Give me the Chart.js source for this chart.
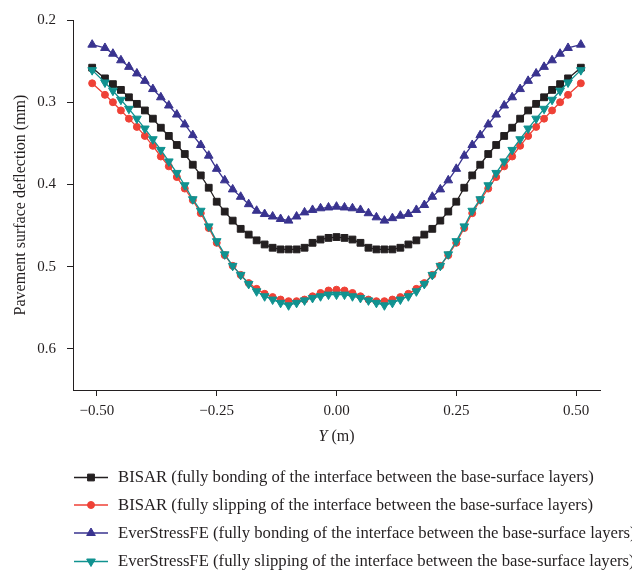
<!DOCTYPE html>
<html><head><meta charset="utf-8">
<script src="https://cdn.jsdelivr.net/npm/chart.js@4/dist/chart.umd.min.js"></script>
<style>html,body{margin:0;padding:0;background:#fff}#wrap{width:632px;height:573px;position:relative}canvas{display:block}</style>
</head><body><div id="wrap"><canvas id="c" width="632" height="573"></canvas></div>
<script>
// Transverse position Y (m)
const positionY = [-0.51, -0.4833, -0.4667, -0.45, -0.4333, -0.4167, -0.4, -0.3833, -0.3667, -0.35, -0.3333, -0.3167, -0.3, -0.2833, -0.2667, -0.25, -0.2333, -0.2167, -0.2, -0.1833, -0.1667, -0.15, -0.1333, -0.1167, -0.1, -0.0833, -0.0667, -0.05, -0.0333, -0.0167, 0, 0.0167, 0.0333, 0.05, 0.0667, 0.0833, 0.1, 0.1167, 0.1333, 0.15, 0.1667, 0.1833, 0.2, 0.2167, 0.2333, 0.25, 0.2667, 0.2833, 0.3, 0.3167, 0.3333, 0.35, 0.3667, 0.3833, 0.4, 0.4167, 0.4333, 0.45, 0.4667, 0.4833, 0.51];

const bisarBonding = [0.258,0.271,0.278,0.285,0.294,0.302,0.310,0.320,0.331,0.341,0.352,0.363,0.376,0.389,0.404,0.421,0.433,0.444,0.454,0.461,0.468,0.473,0.477,0.479,0.479,0.479,0.477,0.471,0.467,0.465,0.464,
  0.465,0.467,0.471,0.477,0.479,0.479,0.479,0.477,0.473,0.468,0.461,0.454,0.444,0.433,0.421,0.404,0.389,0.376,0.363,0.352,0.341,0.331,0.320,0.310,0.302,0.294,0.285,0.278,0.271,0.258];

const bisarSlipping = [0.277,0.291,0.300,0.310,0.320,0.330,0.341,0.353,0.366,0.378,0.391,0.405,0.419,0.435,0.453,0.471,0.486,0.499,0.510,0.520,0.527,0.533,0.537,0.540,0.542,0.542,0.540,0.536,0.532,0.529,0.528,
  0.529,0.532,0.536,0.540,0.542,0.542,0.540,0.537,0.533,0.527,0.520,0.510,0.499,0.486,0.471,0.453,0.435,0.419,0.405,0.391,0.378,0.366,0.353,0.341,0.330,0.320,0.310,0.300,0.291,0.277];

const everBonding = [0.230,0.234,0.241,0.249,0.257,0.265,0.274,0.284,0.294,0.304,0.315,0.327,0.340,0.352,0.365,0.381,0.395,0.406,0.415,0.424,0.432,0.436,0.439,0.442,0.444,0.439,0.434,0.431,0.429,0.428,0.427,
  0.428,0.429,0.431,0.435,0.440,0.444,0.441,0.438,0.436,0.431,0.425,0.415,0.406,0.395,0.381,0.365,0.352,0.340,0.327,0.315,0.304,0.294,0.284,0.274,0.265,0.257,0.249,0.241,0.234,0.230];

const everSlipping = [0.261,0.276,0.286,0.297,0.308,0.320,0.332,0.345,0.358,0.372,0.386,0.401,0.418,0.432,0.451,0.469,0.485,0.499,0.510,0.521,0.530,0.536,0.540,0.544,0.547,0.544,0.541,0.538,0.536,0.534,0.534,
  0.534,0.536,0.538,0.541,0.544,0.547,0.544,0.540,0.536,0.530,0.521,0.510,0.499,0.485,0.469,0.451,0.432,0.418,0.401,0.386,0.372,0.358,0.345,0.332,0.320,0.308,0.297,0.286,0.276,0.261];

const seriesNames = [
  'BISAR (fully bonding of the interface between the base-surface layers)',
  'BISAR (fully slipping of the interface between the base-surface layers)',
  'EverStressFE (fully bonding of the interface between the base-surface layers)',
  'EverStressFE (fully slipping of the interface between the base-surface layers)'
];

const xTicks = [-0.5, -0.25, 0, 0.25, 0.5];
const yTicks = [0.2, 0.3, 0.4, 0.5, 0.6];
const xTitleMain = 'Y';
const xTitleUnit = ' (m)';
const yTitle = 'Pavement surface deflection (mm)';

const SERIF = '"Liberation Serif", "DejaVu Serif", serif';
const COLORS = ['#231f20', '#ef4136', '#39338f', '#109290'];

function pts(vals) { return positionY.map((x, i) => ({x: x, y: vals[i]})); }

function ds(label, vals, color, style, radius, rotation, order) {
  return {
    label: label, data: pts(vals), borderColor: color, backgroundColor: color,
    pointBackgroundColor: color, pointBorderColor: color, pointBorderWidth: 1,
    pointStyle: style, pointRadius: radius, pointRotation: rotation, pointHoverRadius: radius,
    borderWidth: 1.3, tension: 0, order: order
  };
}

const customLegend = {
  id: 'customLegend',
  afterDraw(chart) {
    const ctx = chart.ctx;
    const rows = [477.5, 505, 533, 561.5];
    ctx.save();
    chart.data.datasets.forEach((d, i) => {
      const y = rows[i];
      ctx.strokeStyle = d.borderColor;
      ctx.lineWidth = 1.6;
      ctx.beginPath(); ctx.moveTo(74, y); ctx.lineTo(108, y); ctx.stroke();
      ctx.fillStyle = d.pointBackgroundColor;
      ctx.strokeStyle = d.pointBorderColor;
      ctx.lineWidth = 1;
      Chart.helpers.drawPoint(ctx, {pointStyle: d.pointStyle, radius: d.pointRadius, borderWidth: 1, rotation: d.pointRotation}, 91, y);
      ctx.fillStyle = '#231f20';
      ctx.font = '16.7px ' + SERIF;
      ctx.textAlign = 'left';
      ctx.textBaseline = 'middle';
      ctx.fillText(seriesNames[i], 118, y + 0.5);
    });
    // x axis title with italic variable
    const ca = chart.chartArea;
    const cx = (ca.left + ca.right) / 2;
    const ty = 437;
    ctx.fillStyle = '#231f20';
    ctx.textBaseline = 'middle';
    ctx.font = 'italic 16px ' + SERIF;
    const w1 = ctx.measureText(xTitleMain).width;
    ctx.font = '16px ' + SERIF;
    const w2 = ctx.measureText(xTitleUnit).width;
    const start = cx - (w1 + w2) / 2;
    ctx.textAlign = 'left';
    ctx.font = 'italic 16px ' + SERIF;
    ctx.fillText(xTitleMain, start, ty);
    ctx.font = '16px ' + SERIF;
    ctx.fillText(xTitleUnit, start + w1, ty);
    ctx.restore();
  }
};

const chart = new Chart(document.getElementById('c'), {
  type: 'line',
  data: {
    datasets: [
      ds(seriesNames[0], bisarBonding, COLORS[0], 'rect', 4.8, 0, 1),
      ds(seriesNames[1], bisarSlipping, COLORS[1], 'circle', 3.5, 0, 2),
      ds(seriesNames[2], everBonding, COLORS[2], 'triangle', 5, 0, 3),
      ds(seriesNames[3], everSlipping, COLORS[3], 'triangle', 5, 180, 0)
    ]
  },
  options: {
    responsive: false,
    devicePixelRatio: 1,
    animation: false,
    layout: {padding: {left: 0, top: 19, right: 32, bottom: 123}},
    plugins: {legend: {display: false}, tooltip: {enabled: false}, title: {display: false}},
    scales: {
      x: {
        type: 'linear', min: -0.55, max: 0.55,
        afterBuildTicks(s) { s.ticks = xTicks.map(v => ({value: v})); },
        afterFit(s) { s.height = 60; },
        ticks: {
          color: '#231f20', font: {family: SERIF, size: 15}, padding: 6, maxRotation: 0, autoSkip: false,
          callback(v) { const t = Math.abs(v).toFixed(2); return v < 0 ? '\u2212' + t : t; }
        },
        grid: {drawOnChartArea: false, drawTicks: true, tickLength: 6, color: '#231f20', lineWidth: 1},
        border: {display: true, color: '#231f20', width: 1},
        title: {display: false}
      },
      y: {
        type: 'linear', reverse: true, min: 0.2, max: 0.65,
        afterBuildTicks(s) { s.ticks = yTicks.map(v => ({value: v})); },
        afterFit(s) { s.width = 73; },
        ticks: {
          color: '#231f20', font: {family: SERIF, size: 15}, padding: 11, autoSkip: false,
          callback(v) { return v.toFixed(1); }
        },
        grid: {drawOnChartArea: false, drawTicks: true, tickLength: 6, color: '#231f20', lineWidth: 1},
        border: {display: true, color: '#231f20', width: 1},
        title: {display: true, text: yTitle, color: '#231f20', font: {family: SERIF, size: 16}, padding: {top: 11, bottom: 0}}
      }
    }
  },
  plugins: [customLegend]
});
</script>
</body></html>
